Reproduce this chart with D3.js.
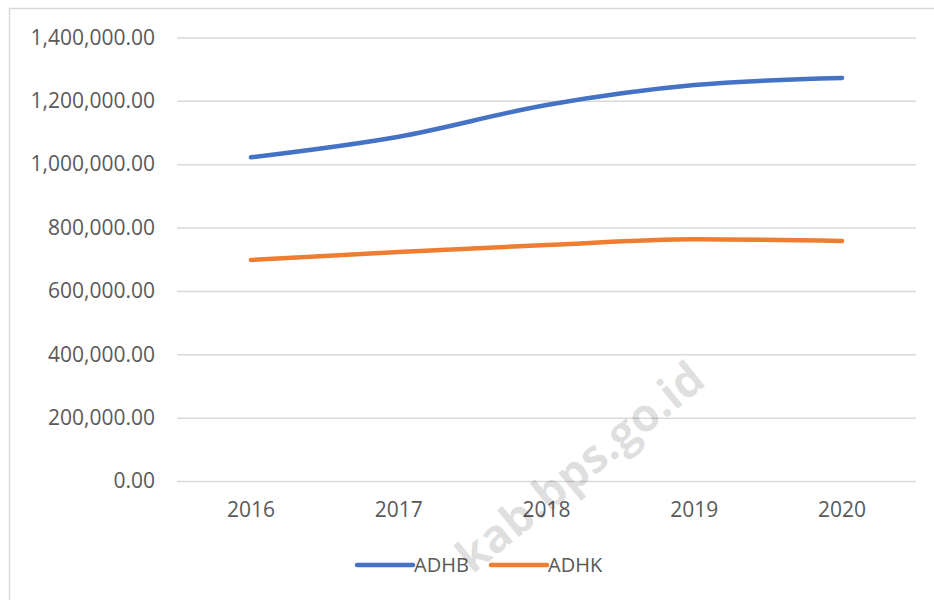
<!DOCTYPE html>
<html>
<head>
<meta charset="utf-8">
<script src="https://cdn.jsdelivr.net/npm/d3@7"></script>
<style>
  body { margin: 0; background: #fff; }
  svg { display: block; font-family: "Open Sans", sans-serif; }
</style>
</head>
<body>
<svg id="chart" width="934" height="600"></svg>
<script>
// values
var years = ['2016', '2017', '2018', '2019', '2020'];
var adhb = [1021800, 1086900, 1187000, 1250000, 1272000];
var adhk = [697600, 723000, 745000, 763000, 757600];
var yTicks = [0, 200000, 400000, 600000, 800000, 1000000, 1200000, 1400000];

var series = [
    { name: 'ADHB', values: adhb, color: '#4472c4' },
    { name: 'ADHK', values: adhk, color: '#ed7d31' },
];

var svg = d3.select('#chart');
var margin = { left: 177, right: 18, top: 37.5, bottom: 119 };
var width = 934 - margin.left - margin.right,
    height = 600 - margin.top - margin.bottom;

// chart border (cut off at right/bottom like the picture)
svg.append('rect')
    .attr('x', 9.5).attr('y', 8.5)
    .attr('width', 960).attr('height', 620)
    .attr('fill', 'none')
    .attr('stroke', '#d9d9d9')
    .attr('stroke-width', 1.5);

var g = svg.append('g')
    .attr('transform', 'translate(' + margin.left + ',' + margin.top + ')');

var x = d3.scaleBand().domain(years).range([0, width]);
var y = d3.scaleLinear().domain([0, 1400000]).range([height, 0]);

var fmt = d3.format(',.2f');

// gridlines + y labels
var yAxis = g.append('g')
    .call(d3.axisLeft(y).tickValues(yTicks).tickSize(-width).tickPadding(22).tickFormat(fmt));
yAxis.select('.domain').remove();
yAxis.selectAll('line').attr('stroke', '#d9d9d9').attr('stroke-width', 1.5);
yAxis.selectAll('text')
    .attr('fill', '#595959')
    .style('font-size', '21px')
    .style('font-family', '"Open Sans", sans-serif');

// x labels
var xAxis = g.append('g')
    .attr('transform', 'translate(0,' + height + ')')
    .call(d3.axisBottom(x).tickSize(0).tickPadding(21));
xAxis.select('.domain').remove();
xAxis.selectAll('text')
    .attr('fill', '#595959')
    .style('font-size', '21px')
    .style('font-family', '"Open Sans", sans-serif');

var line = d3.line()
    .x((d, i) => x(years[i]) + x.bandwidth() / 2)
    .y(d => y(d))
    .curve(d3.curveMonotoneX);

g.selectAll('.series')
    .data(series)
    .enter().append('path')
        .attr('class', 'series')
        .attr('d', d => line(d.values))
        .attr('fill', 'none')
        .attr('stroke', d => d.color)
        .attr('stroke-width', 4.5)
        .attr('stroke-linecap', 'round')
        .attr('stroke-linejoin', 'round');

// legend
var legend = svg.append('g').attr('transform', 'translate(357,565)');
var litem = legend.selectAll('g')
    .data(series)
    .enter().append('g')
        .attr('transform', (d, i) => 'translate(' + (i * 134) + ',0)');
litem.append('line')
    .attr('x1', 0).attr('x2', 56)
    .attr('stroke', d => d.color)
    .attr('stroke-width', 4.5)
    .attr('stroke-linecap', 'round');
litem.append('text')
    .attr('x', 57)
    .attr('dy', '0.35em')
    .attr('fill', '#595959')
    .style('font-size', '20px')
    .text(d => d.name);

// watermark
svg.append('text')
    .attr('transform', 'translate(708,384) rotate(-39)')
    .attr('text-anchor', 'end')
    .attr('fill', '#000')
    .attr('fill-opacity', 0.12)
    .style('font-size', '46px')
    .style('font-weight', 700)
    .text('kab.bps.go.id');
</script>
</body>
</html>
